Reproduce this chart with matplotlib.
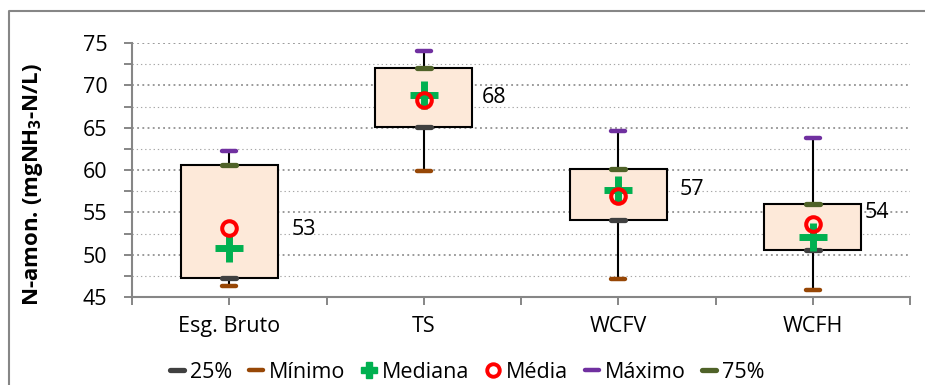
import matplotlib
matplotlib.use("Agg")
import matplotlib.pyplot as plt
from matplotlib.lines import Line2D
from matplotlib.markers import MarkerStyle
from matplotlib.ticker import MultipleLocator

plt.rcParams['font.family'] = ['Open Sans', 'DejaVu Sans']
plt.rcParams['mathtext.fontset'] = 'custom'
plt.rcParams['mathtext.rm'] = 'Open Sans'
plt.rcParams['mathtext.bf'] = 'Open Sans:bold'

# N-amon. statistics per treatment stage
categorias = ["Esg. Bruto", "TS", "WCFV", "WCFH"]
minimo = [46.3, 59.9, 47.1, 45.8]
q25 = [47.3, 65.1, 54.1, 50.6]
mediana = [50.8, 68.9, 57.6, 52.1]
media = [53.2, 68.3, 56.9, 53.6]
q75 = [60.6, 72.1, 60.1, 56.0]
maximo = [62.3, 74.1, 64.6, 63.8]

# where each mean label sits relative to its point (pixels)
label_offsets = [(62, -2), (58, 2), (61, 7), (52, 12)]

c_q25 = "#404040"
c_min = "#974706"
c_med = "#00B050"
c_mean = "#FF0000"
c_max = "#7030A0"
c_q75 = "#4F6228"
grey = "#868686"
fs = 15.5

fig = plt.figure(figsize=(9.25, 3.85), dpi=100)
ax = fig.add_axes([132 / 925, 1 - 297 / 385, 778 / 925, 254 / 385])

x = list(range(len(categorias)))

# whiskers, boxes, then the markers on top
ax.vlines(x, minimo, maximo, color="black", lw=1.5, zorder=2)
ax.bar(x, [b - a for a, b in zip(q25, q75)], bottom=q25, width=0.5,
       color="#FDE9D9", edgecolor="black", linewidth=1.5, zorder=3)

dash = MarkerStyle("_", capstyle="round")
ax.plot(x, q25, ls="none", marker=dash, ms=10, mew=3.8, color=c_q25, zorder=4)
ax.plot(x, minimo, ls="none", marker=dash, ms=10, mew=3.2, color=c_min, zorder=4)
ax.plot(x, maximo, ls="none", marker=dash, ms=10, mew=3.2, color=c_max, zorder=4)
ax.plot(x, q75, ls="none", marker=dash, ms=10, mew=3.8, color=c_q75, zorder=4)
ax.plot(x, mediana, ls="none", marker="+", ms=20, mew=5, color=c_med, zorder=5)
ax.plot(x, media, ls="none", marker="o", ms=10.5, mew=2.9, mfc="none",
        mec=c_mean, zorder=6)

for i, m in enumerate(media):
    ax.annotate(f"{m:.0f}", xy=(i, m), xytext=label_offsets[i],
                textcoords="offset pixels", ha="left", va="center",
                fontsize=fs, zorder=7)

ax.set_xlim(-0.5, 3.5)
ax.set_ylim(45, 75)
ax.set_xticks(x)
ax.set_xticklabels(categorias)
ax.xaxis.set_minor_locator(MultipleLocator(0.5))
ax.yaxis.set_major_locator(MultipleLocator(5))
ax.yaxis.set_minor_locator(MultipleLocator(2.5))

ax.tick_params(axis="both", which="both", direction="out", length=5.8,
               width=1.4, color=grey, labelsize=fs)
ax.tick_params(axis="y", which="major", pad=12)
ax.tick_params(axis="x", which="major", pad=8)

for s in ["top", "right"]:
    ax.spines[s].set_visible(False)
for s in ["left", "bottom"]:
    ax.spines[s].set_color(grey)
    ax.spines[s].set_linewidth(1.5)

ax.grid(axis="y", which="major", color="#7f7f7f", lw=1.1, ls=(0, (1.2, 2.2)), zorder=1)
ax.grid(axis="y", which="minor", color="#a6a6a6", lw=0.8, ls=(0, (1.2, 2.6)), zorder=1)
ax.set_axisbelow(True)

ax.set_ylabel(r"N-amon. (mgNH$_\mathbf{3}$-N/L)", fontsize=16, fontweight="bold")
ax.yaxis.set_label_coords(-0.112, 0.441)

# legend entries
handles = [
    Line2D([], [], ls="none", marker=dash, ms=10, mew=3.8, color=c_q25),
    Line2D([], [], ls="none", marker=dash, ms=10, mew=3.2, color=c_min),
    Line2D([], [], ls="none", marker="P", ms=11, color=c_med),
    Line2D([], [], ls="none", marker="o", ms=9, mew=2.8, mfc="none", mec=c_mean),
    Line2D([], [], ls="none", marker=dash, ms=10, mew=3.2, color=c_max),
    Line2D([], [], ls="none", marker=dash, ms=10, mew=3.8, color=c_q75),
]
labels = ["25%", "Mínimo", "Mediana", "Média", "Máximo", "75%"]
fig.legend(handles, labels, ncol=6, frameon=False, fontsize=fs,
           loc="lower center", bbox_to_anchor=(0.505, 0.0),
           borderaxespad=0.0, borderpad=0.1,
           handlelength=0.7, handletextpad=0.25, columnspacing=0.75)

# chart area border
fig.add_artist(Line2D([9 / 925, 9 / 925, 1], [0, 1 - 11 / 385, 1 - 11 / 385],
                      color=grey, lw=1.5, transform=fig.transFigure))

fig.savefig("out.png", dpi=100)
